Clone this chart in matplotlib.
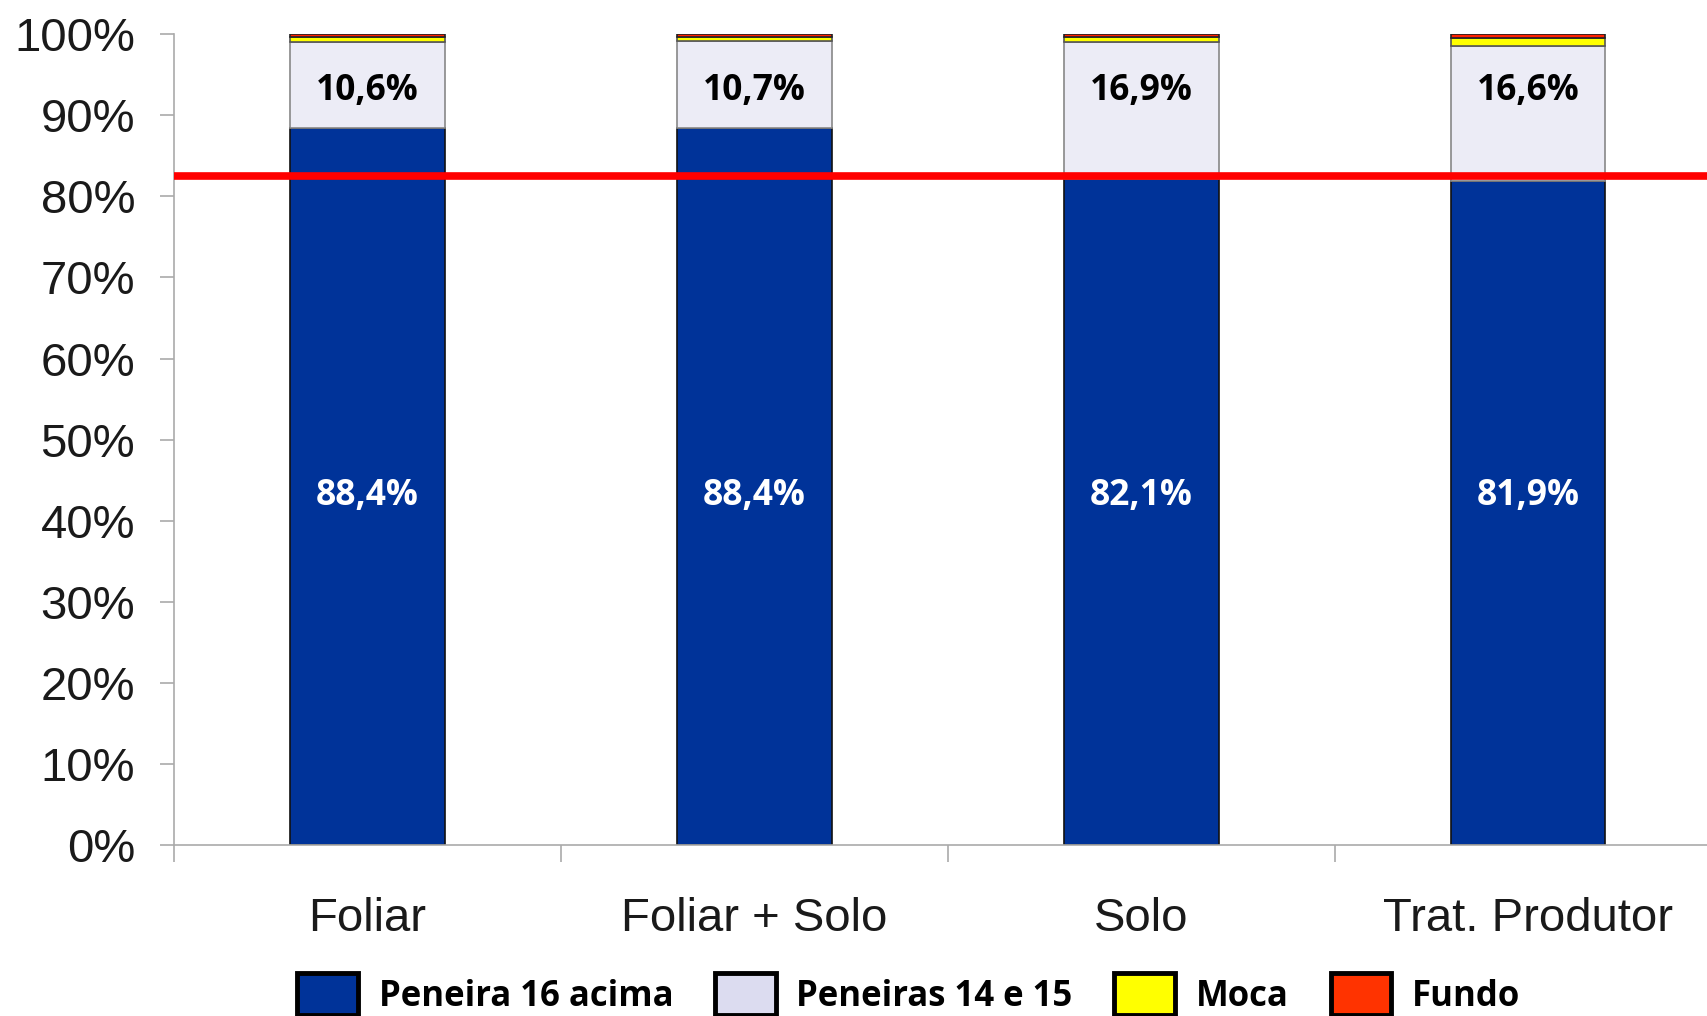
import matplotlib

matplotlib.use("Agg")
import matplotlib.pyplot as plt
import numpy as np

categories = ["Foliar", "Foliar + Solo", "Solo", "Trat. Produtor"]
peneira16 = [88.4, 88.4, 82.1, 81.9]
peneiras1415 = [10.6, 10.7, 16.9, 16.6]
moca = [0.6, 0.5, 0.6, 1.0]
fundo = [0.4, 0.4, 0.4, 0.5]
ref_line = 82.5

series = [
    ("Peneira 16 acima", peneira16, "#003399", "#111111"),
    ("Peneiras 14 e 15", peneiras1415, "#ECECF6", "#888888"),
    ("Moca", moca, "#FFFF00", "#555555"),
    ("Fundo", fundo, "#FF2000", "#222222"),
]
legend_colors = ["#003399", "#DCDCF0", "#FFFF00", "#FF3300"]

fig = plt.figure(figsize=(17.08, 10.16), dpi=100)
ax = fig.add_axes([0.1019, 0.168, 0.906, 0.7985])

x = np.arange(len(categories))
bottom = np.zeros(len(categories))
for name, vals, color, edge in series:
    ax.bar(x, vals, width=0.40, bottom=bottom, color=color, edgecolor=edge,
           linewidth=1.2, zorder=2)
    bottom += np.array(vals)

ax.axhline(ref_line, color="#FF0000", linewidth=5.5, zorder=3)

for i in range(len(categories)):
    ax.text(x[i], 43, f"{peneira16[i]:.1f}%".replace(".", ","), color="white",
            ha="center", va="center", fontsize=25.5, fontweight="bold",
            family="Open Sans", zorder=4)
    ax.text(x[i], 93, f"{peneiras1415[i]:.1f}%".replace(".", ","), color="black",
            ha="center", va="center", fontsize=25.5, fontweight="bold",
            family="Open Sans", zorder=4)

ax.set_xlim(-0.5, 3.5)
ax.set_ylim(0, 100)
ax.set_yticks(np.arange(0, 101, 10))
ax.set_yticklabels([f"{v}%" for v in range(0, 101, 10)], family="Liberation Sans",
                   fontsize=34, color="#1a1a1a")
ax.set_xticks(x)
ax.set_xticklabels(categories, family="Liberation Sans", fontsize=34, color="#1a1a1a")
ax.tick_params(axis="x", length=0, pad=37)
ax.set_xticks(np.arange(-0.5, 3.6, 1), minor=True)
ax.tick_params(axis="x", which="minor", length=12, color="#AAAAAA", width=1.2)
ax.tick_params(axis="y", length=10, color="#AAAAAA", width=1.2, pad=18)
for s in ["top", "right"]:
    ax.spines[s].set_visible(False)
for s in ["left", "bottom"]:
    ax.spines[s].set_color("#AAAAAA")
    ax.spines[s].set_linewidth(1.2)

handles = [plt.Rectangle((0, 0), 1, 1, facecolor=c, edgecolor="black", linewidth=3.5)
           for c in legend_colors]
fig.legend(handles, [s[0] for s in series], loc="lower center",
           bbox_to_anchor=(0.532, -0.03), ncol=4, frameon=False,
           prop={"family": "Open Sans", "weight": "bold", "size": 25},
           handlelength=1.75, handleheight=1.5, columnspacing=1.2, handletextpad=0.6)

fig.savefig("out.png", dpi=100)
